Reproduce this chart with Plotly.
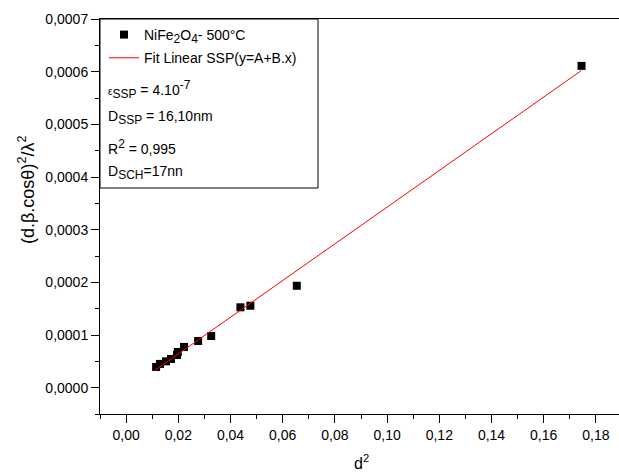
import plotly.graph_objects as go

# Williamson-Hall / SSP data for NiFe2O4 annealed at 500 °C
d_sq = [0.0115, 0.0130, 0.0153, 0.0172, 0.0195, 0.0198, 0.0222, 0.0276,
        0.0326, 0.0438, 0.0476, 0.0654, 0.1745]
ssp_y = [0.0000393, 0.0000451, 0.0000500, 0.0000545, 0.0000620, 0.0000678,
         0.0000773, 0.0000886, 0.0000981, 0.0001526, 0.0001556, 0.0001935,
         0.0006110]

# Linear fit y = A + B.x
fit_A = -0.0000056
fit_B = 0.003484
fit_x = [0.0107, 0.1744]
fit_y = [fit_A + fit_B * x for x in fit_x]

x_ticks = [0.00, 0.02, 0.04, 0.06, 0.08, 0.10, 0.12, 0.14, 0.16, 0.18]
y_ticks = [0.0000, 0.0001, 0.0002, 0.0003, 0.0004, 0.0005, 0.0006, 0.0007]

W, H = 619, 474
L, R, T, B = 100, 0, 19, 60

def sub(t):
    return "<sub><span style='font-size:12px'>%s</span></sub>" % t

def sup(t):
    return "<sup><span style='font-size:12px'>%s</span></sup>" % t

fig = go.Figure()
fig.add_trace(go.Scatter(
    x=d_sq, y=ssp_y, mode="markers",
    marker=dict(symbol="square", size=8, color="black", line=dict(width=0)),
    name="NiFe" + sub("2") + "O" + sub("4") + "- 500°C", legendgroup="a",
))
fig.add_trace(go.Scatter(
    x=fit_x, y=fit_y, mode="lines",
    line=dict(color="#ff0000", width=1),
    name="Fit Linear SSP(y=A+B.x)", legendgroup="b",
))

font_main = "Liberation Sans, Arial, sans-serif"

axis_common = dict(
    showgrid=False, zeroline=False, showline=True, linecolor="black",
    linewidth=1, ticks="outside", ticklen=8, tickwidth=1, tickcolor="black",
    tickfont=dict(family=font_main, size=14, color="black"),
)

fig.update_xaxes(
    range=[-0.01, 0.18885], tickvals=x_ticks, tickformat=".2f", mirror=True,
    minor=dict(ticks="outside", ticklen=4, dtick=0.01, tick0=-0.01,
               tickcolor="black"),
    **axis_common,
)
fig.update_yaxes(
    range=[-0.00005, 0.0007], tickvals=y_ticks, tickformat=".4f",
    minor=dict(ticks="outside", ticklen=4, dtick=0.00005, tick0=-0.00005,
               tickcolor="black"),
    **axis_common,
)

pw = W - L - R
ph = H - T - B

def px_x(p):
    return (p - L) / pw

def px_y(p):
    return 1 - (p - T) / ph

# legend frame
fig.add_shape(type="rect", xref="paper", yref="paper",
              x0=0, x1=px_x(318), y0=px_y(188), y1=1,
              line=dict(color="black", width=1), fillcolor="rgba(0,0,0,0)")

notes = [
    (90, "<span style='font-size:10px'>ε</span>" + sub("SSP") + " = 4.10" + sup("-7")),
    (117, "D" + sub("SSP") + " = 16,10nm"),
    (147, "R" + sup("2") + " = 0,995"),
    (172, "D" + sub("SCH") + "=17nn"),
]
for yp, txt in notes:
    fig.add_annotation(xref="paper", yref="paper", x=px_x(106), y=px_y(yp),
                       xanchor="left", yanchor="middle", showarrow=False,
                       text=txt, font=dict(family=font_main, size=14,
                                           color="black"))

fig.add_annotation(xref="paper", yref="paper", x=px_x(26), y=px_y(190),
                   textangle=-90, showarrow=False, xanchor="center",
                   yanchor="middle",
                   text="(d.β.cosθ)<sup>2</sup>/λ<sup>2</sup>",
                   font=dict(family=font_main, size=18, color="black"))
fig.add_annotation(xref="paper", yref="paper", x=px_x(361), y=px_y(462),
                   showarrow=False, xanchor="center", yanchor="middle",
                   text="d<sup>2</sup>",
                   font=dict(family=font_main, size=16, color="black"))

fig.update_layout(
    width=W, height=H, margin=dict(l=L, r=R, t=T, b=B),
    paper_bgcolor="white", plot_bgcolor="white",
    separators=",.",
    showlegend=True,
    legend=dict(x=px_x(104), y=1, xanchor="left", yanchor="top",
                bgcolor="rgba(0,0,0,0)", borderwidth=0,
                font=dict(family=font_main, size=14, color="black"),
                traceorder="grouped", tracegroupgap=2,
                itemwidth=30),
)

fig.write_html("out.html")
